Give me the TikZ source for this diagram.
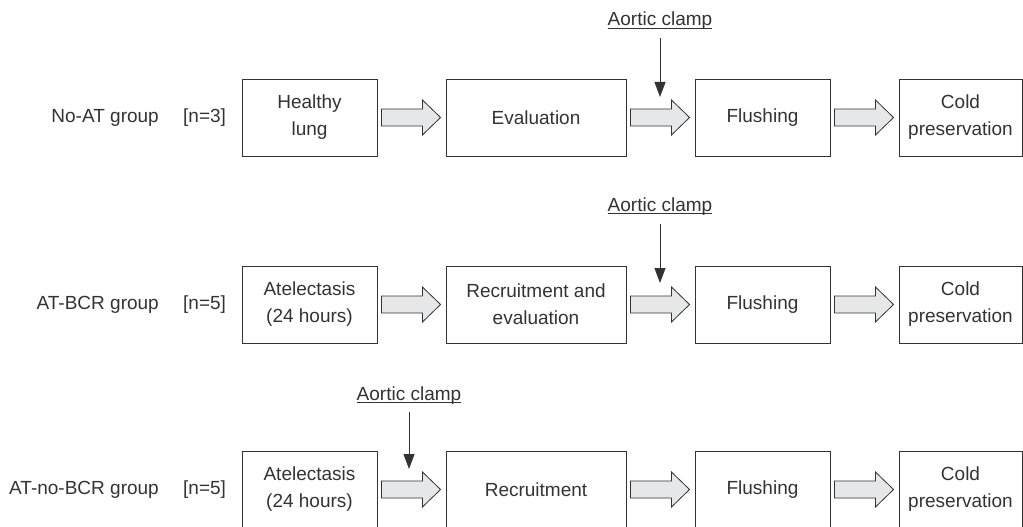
\documentclass[tikz,border=0pt]{standalone}
\usepackage{fontspec}
\setmainfont{Liberation Sans}
\usetikzlibrary{calc,arrows.meta}
\definecolor{arrowfill}{HTML}{E6E7E8}
\definecolor{inkgray}{HTML}{333333}
\newcommand{\fatarrow}[2]{%
  \draw[fat arrow] ($(#1.east)+(4,8.5)$) -- ($(#1.east)+(45,8.5)$) -- ($(#1.east)+(45,17.5)$)
    -- ($(#2.west)+(-5,0)$) -- ($(#1.east)+(45,-17.5)$) -- ($(#1.east)+(45,-8.5)$)
    -- ($(#1.east)+(4,-8.5)$) -- cycle;}
\begin{document}
\begin{tikzpicture}[x=1pt, y=1pt, every node/.style={font=\fontsize{19}{27}\selectfont, text=inkgray},
  step box/.style={draw=inkgray, line width=0.9pt, minimum height=77pt, align=center, inner sep=0pt},
  fat arrow/.style={draw=inkgray, line width=0.8pt, fill=arrowfill, line join=miter},
  clamp arrow/.style={draw=inkgray, line width=0.9pt, -{Triangle[width=11pt,length=15pt]}},
  clamp label/.style={inner sep=0pt, anchor=base},
  group label/.style={inner sep=0pt}]
\useasboundingbox (0,0) rectangle (1023,-527);
% group labels
\node[group label, anchor=east] (g1) at (159,-117.5) {No-AT group};
\node[group label, anchor=west] (n1) at (183,-117.5) {[n=3]};
\node[group label, anchor=east] (g2) at (159,-304.5) {AT-BCR group};
\node[group label, anchor=west] (n2) at (183,-304.5) {[n=5]};
\node[group label, anchor=east] (g3) at (159,-489.5) {AT-no-BCR group};
\node[group label, anchor=west] (n3) at (183,-489.5) {[n=5]};
% row 1
\node[step box, minimum width=135pt] (a1) at (309.5,-117.5) {Healthy\\lung};
\node[step box, minimum width=180pt] (b1) at (536,-117.5) {Evaluation};
\node[step box, minimum width=135pt] (f1) at (762.5,-117.5) {Flushing};
\node[step box, minimum width=123pt] (c1) at (960.5,-117.5) {Cold\\preservation};
% row 2
\node[step box, minimum width=135pt] (a2) at (309.5,-304.5) {Atelectasis\\(24 hours)};
\node[step box, minimum width=180pt] (b2) at (536,-304.5) {Recruitment and\\evaluation};
\node[step box, minimum width=135pt] (f2) at (762.5,-304.5) {Flushing};
\node[step box, minimum width=123pt] (c2) at (960.5,-304.5) {Cold\\preservation};
% row 3
\node[step box, minimum width=135pt] (a3) at (309.5,-489.5) {Atelectasis\\(24 hours)};
\node[step box, minimum width=180pt] (b3) at (536,-489.5) {Recruitment};
\node[step box, minimum width=135pt] (f3) at (762.5,-489.5) {Flushing};
\node[step box, minimum width=123pt] (c3) at (960.5,-489.5) {Cold\\preservation};
% flow arrows
\fatarrow{a1}{b1} \fatarrow{b1}{f1} \fatarrow{f1}{c1}
\fatarrow{a2}{b2} \fatarrow{b2}{f2} \fatarrow{f2}{c2}
\fatarrow{a3}{b3} \fatarrow{b3}{f3} \fatarrow{f3}{c3}
% aortic clamps
\node[clamp label] (ac1) at (660,-26) {Aortic clamp};
\node[clamp label] (ac2) at (660,-211.5) {Aortic clamp};
\node[clamp label] (ac3) at (409,-400) {Aortic clamp};
\coordinate (t1) at (660,-97);
\coordinate (t2) at (660,-283);
\coordinate (t3) at (409,-469);
\foreach \i in {1,2,3} {
  \draw[inkgray, line width=0.7pt] ([yshift=-2pt]ac\i.base west) -- ([yshift=-2pt]ac\i.base east);
  \draw[clamp arrow] ([yshift=-12pt]ac\i.base) -- (t\i);
}
\end{tikzpicture}
\end{document}
